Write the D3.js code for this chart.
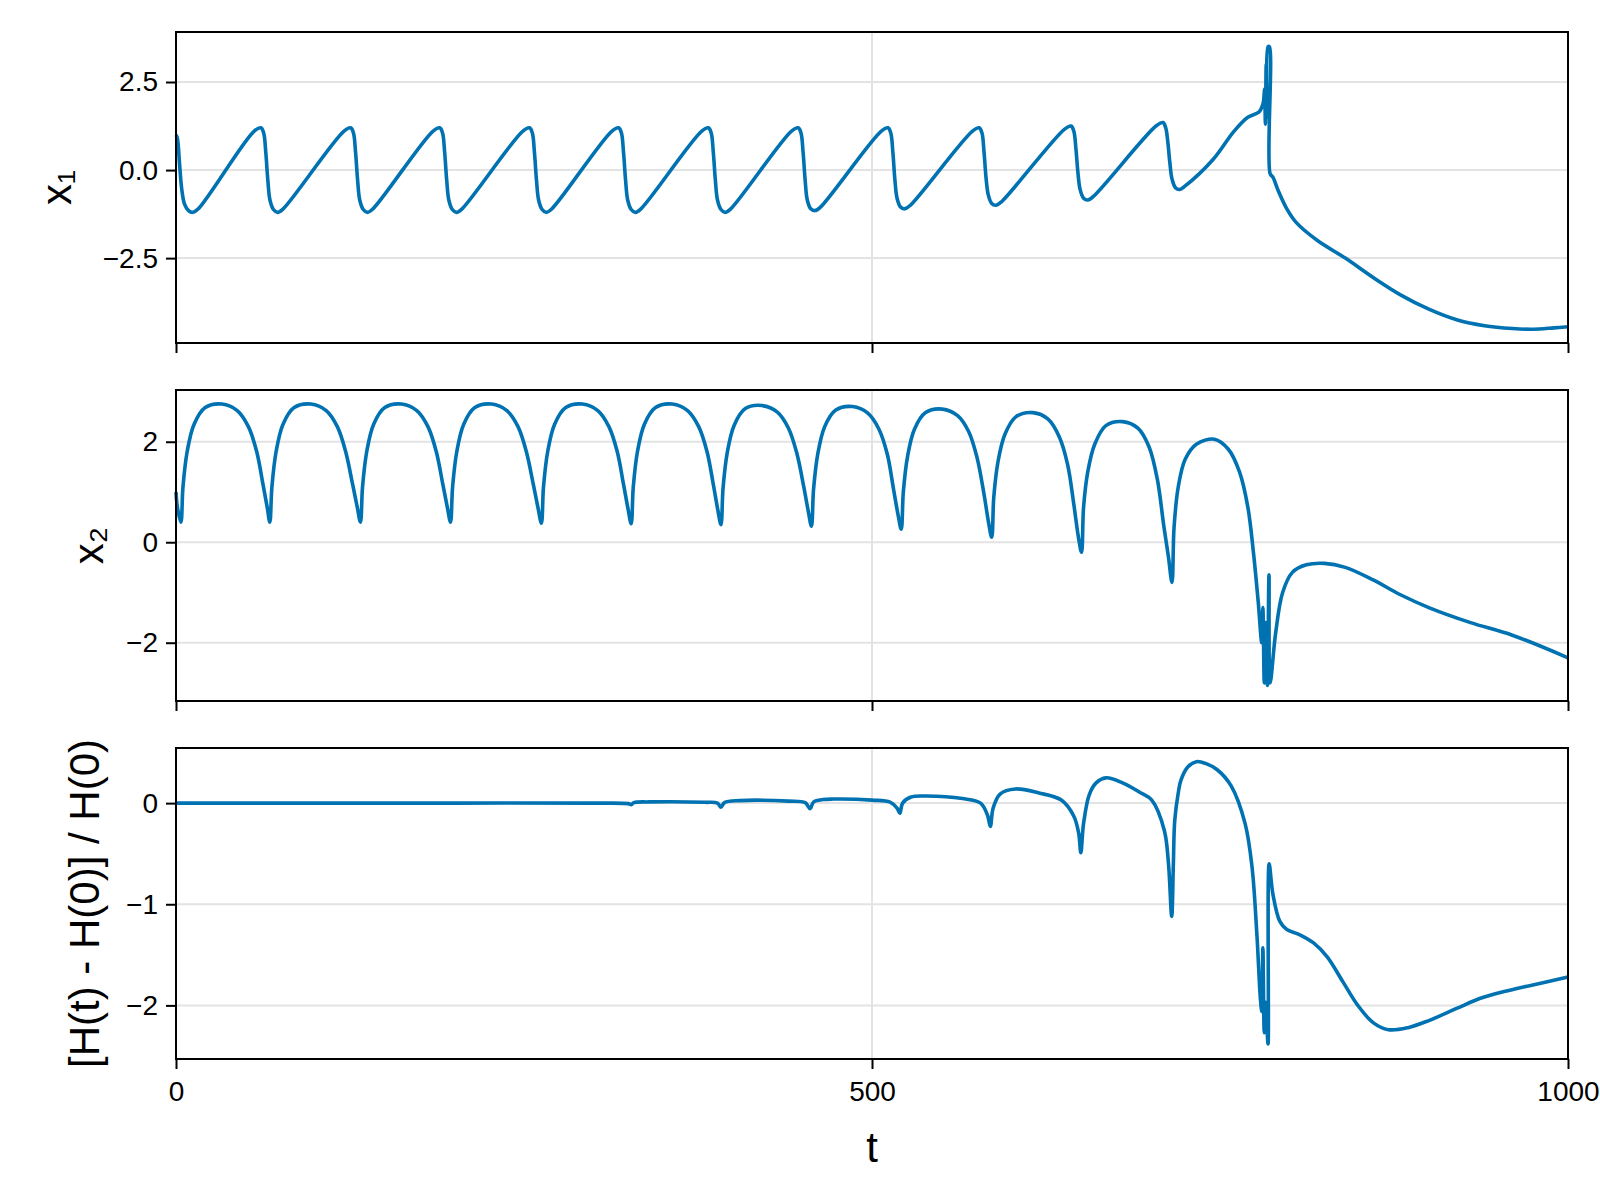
<!DOCTYPE html>
<html>
<head>
<meta charset="utf-8">
<script src="https://cdn.jsdelivr.net/npm/d3@7"></script>
<style>
  body { margin: 0; background: #fff; }
  text { font-family: "Liberation Sans", Arial, sans-serif; fill: #000; }
</style>
</head>
<body>
<svg id="chart" width="1600" height="1200"></svg>
<script>
// t, x1
var x1Data = [
  [0,1.0],[1,0.9],[2.5,0.2],[4,-0.5],[6,-0.95],[9,-1.15],[12,-1.2],[16,-1.1],[56,1.1],[61,1.2],
  [63,1.05],[64.5,0.5],[66,-0.3],[67.5,-0.85],[70,-1.12],[73,-1.2],[77,-1.1],[120.5,1.1],[125.5,1.2],
  [127.5,1.05],[129,0.5],[130.5,-0.3],[132,-0.85],[134.5,-1.12],[137.5,-1.2],[141.5,-1.1],[184.5,1.1],[189.5,1.2],
  [191.5,1.05],[193,0.5],[194.5,-0.3],[196,-0.85],[198.5,-1.12],[201.5,-1.2],[205.5,-1.1],[249,1.1],[254,1.2],
  [256,1.05],[257.5,0.5],[259,-0.3],[260.5,-0.85],[263,-1.12],[266,-1.2],[270,-1.1],[313,1.1],[318,1.2],
  [320,1.05],[321.5,0.5],[323,-0.3],[324.5,-0.85],[327,-1.12],[330,-1.2],[334,-1.1],[377.5,1.1],[382.5,1.2],
  [384.5,1.05],[386,0.5],[387.5,-0.3],[389,-0.85],[391.5,-1.12],[394.5,-1.2],[398.5,-1.1],[442,1.1],[447,1.2],
  [449,1.05],[450.5,0.5],[452,-0.3],[453.5,-0.85],[456,-1.1],[459,-1.15],[463,-1.05],[506.5,1.1],[511.5,1.2],
  [513.5,1.05],[515,0.5],[516.5,-0.3],[518,-0.8],[520.5,-1.05],[523.5,-1.1],[527.5,-1.0],[572,1.1],[577,1.2],
  [579,1.05],[580.5,0.5],[582,-0.25],[583.5,-0.7],[586,-0.95],[589,-1.0],[593,-0.9],[638,1.15],[643,1.25],
  [645,1.1],[646.5,0.6],[648,-0.1],[649.5,-0.55],[652,-0.8],[655,-0.85],[659,-0.75],[704,1.25],[709,1.35],
  [711,1.2],[712.5,0.8],[714,0.2],[715.5,-0.25],[718,-0.5],[721,-0.55],[725,-0.45],[745,0.3],[760,1.1],
  [770,1.5],[778,1.65],[781,1.9],[782,2.3],[782.6,1.3],[783.2,3.0],[783.8,1.5],[784.5,3.5],[785.5,3.5],
  [786,-0.1],[788,-0.2],[792,-0.6],[798,-1.1],[805,-1.5],[820,-2.0],[840,-2.5],[860,-3.05],[880,-3.55],
  [900,-3.95],[920,-4.25],[940,-4.42],[960,-4.5],[975,-4.52],[990,-4.48],[1000,-4.45]
];

// t, x2
var x2Data = [
  [0,1.0],[1,0.7],[3.5,0.4],
  [5,1.1],[8,1.8],[13,2.35],[21,2.68],[33,2.75],[44,2.62],[52,2.3],[58,1.8],[62.5,1.15],[65.5,0.7],[67.4,0.4],
  [68.9,1.1],[71.9,1.8],[76.9,2.35],[84.9,2.68],[96.9,2.75],[107.9,2.62],[115.9,2.3],[121.9,1.8],[126.9,1.15],[130.2,0.7],[132.5,0.4],
  [134,1.1],[137,1.8],[142,2.35],[150,2.68],[162,2.75],[173,2.62],[181,2.3],[187,1.8],[191.7,1.15],[194.9,0.7],[197.2,0.4],
  [198.7,1.1],[201.7,1.8],[206.7,2.35],[214.7,2.68],[226.7,2.75],[237.7,2.62],[245.7,2.3],[251.7,1.8],[256.7,1.15],[260.1,0.68],[262.5,0.38],
  [264,1.1],[267,1.8],[272,2.35],[280,2.68],[292,2.75],[303,2.62],[311,2.3],[317,1.8],[321.5,1.15],[324.7,0.67],[327,0.37],
  [328.5,1.1],[331.5,1.8],[336.5,2.35],[344.5,2.68],[356.5,2.75],[367.5,2.62],[375.5,2.3],[381.5,1.8],[386,1.15],[389.2,0.65],[391.5,0.35],
  [393,1.08],[396,1.78],[401,2.33],[409,2.66],[421,2.72],[432,2.59],[440,2.27],[446,1.77],[451,1.1],[454.2,0.62],[456.5,0.32],
  [458,1.05],[461,1.75],[466,2.3],[474,2.63],[486,2.7],[497,2.57],[505,2.25],[511,1.75],[515.5,1.05],[518.7,0.55],[521,0.26],
  [522.5,1.0],[525.5,1.7],[530.5,2.25],[538.5,2.58],[550.5,2.65],[561.5,2.52],[569.5,2.2],[575.5,1.68],[580.5,0.95],[583.7,0.4],[586,0.1],
  [587.5,0.9],[590.5,1.6],[595.5,2.15],[603.5,2.5],[615.5,2.58],[626.5,2.45],[634.5,2.1],[640.5,1.55],[645,0.75],[648.3,0.1],[650.5,-0.2],
  [652,0.7],[655,1.4],[660,1.95],[668,2.32],[680,2.4],[691,2.27],[699,1.9],[705,1.25],[709.5,0.35],[713,-0.3],[715.5,-0.8],
  [717,0.3],[720,1.1],[725,1.65],[733,1.95],[746,2.05],[756,1.85],[764,1.4],[770,0.7],[774,-0.2],[777.5,-1.2],
  [780,-2.0],[780.8,-1.3],[781.8,-2.8],[782.8,-1.6],[784,-2.85],[785.2,-0.65],[786,-2.8],[790,-1.8],[795,-1.0],
  [802,-0.6],[812,-0.45],[825,-0.42],[840,-0.5],[860,-0.75],[880,-1.05],[900,-1.3],[930,-1.6],[960,-1.85],[1000,-2.3]
];

// t, [H(t) - H(0)] / H(0)
var hData = [
  [0,0],[100,0],[200,0],[300,0],[325,-0.005],[327,-0.015],[329,0.005],[340,0.012],[380,0.008],[389,0],
  [391.5,-0.04],[394,0.005],[405,0.025],[440,0.02],[452,0.005],[455.5,-0.055],[458,0.01],[465,0.035],[472,0.04],
  [500,0.03],[513,0.01],[518,-0.05],[520,-0.1],[522,0.0],[528,0.06],[539,0.07],[565,0.045],[578,0.0],
  [583,-0.12],[585,-0.23],[587,-0.05],[592,0.09],[603,0.14],[620,0.1],[636,0.03],[645,-0.13],[648.5,-0.3],
  [650,-0.49],[652,-0.2],[656,0.08],[661,0.2],[668,0.25],[680,0.2],[692,0.11],[701,0.03],[710,-0.27],
  [713,-0.6],[715.3,-1.12],[716.5,-0.6],[717.5,-0.17],[720,0.1],[722,0.23],[727,0.36],[733,0.41],[740,0.39],
  [748,0.33],[758,0.17],[768,-0.2],[773,-0.63],[776.5,-1.3],[779,-1.93],[780,-2.06],[780.8,-1.43],[781.8,-2.27],
  [782.8,-1.97],[784.5,-2.38],[785.3,-0.6],[788,-0.9],[793,-1.17],[798,-1.25],[807,-1.3],[817,-1.38],[827,-1.52],
  [838,-1.76],[849,-2.0],[860,-2.17],[871,-2.24],[885,-2.22],[900,-2.15],[920,-2.03],[937,-1.93],[955,-1.86],
  [974,-1.8],[1000,-1.72]
];

var xTicks = [0, 500, 1000];
var x1Ticks = [-2.5, 0, 2.5];
var x2Ticks = [-2, 0, 2];
var hTicks = [-2, -1, 0];

var panels = [
  { data: x1Data, domain: [-4.91, 3.92], ticks: x1Ticks, fmt: d3.format(".1f"), label: "x\u2081", top: 32, labelX: 60 },
  { data: x2Data, domain: [-3.16, 3.03], ticks: x2Ticks, fmt: d3.format("d"), label: "x\u2082", top: 390, labelX: 92 },
  { data: hData, domain: [-2.53, 0.545], ticks: hTicks, fmt: d3.format("d"), label: "[H(t) - H(0)] / H(0)", top: 748, labelX: 88, last: true }
];

var svg = d3.select("#chart"),
    left = 176, right = 1568, ph = 311;

var x = d3.scaleLinear().domain([0, 1000]).range([left, right]);

function minus(s) { return s.replace("-", "\u2212"); }

panels.forEach(function (p) {
  var y = d3.scaleLinear().domain(p.domain).range([p.top + ph, p.top]);
  var g = svg.append("g");

  // grid
  g.selectAll(".gy").data(p.ticks).enter().append("line")
    .attr("x1", left).attr("x2", right)
    .attr("y1", function (d) { return y(d); }).attr("y2", function (d) { return y(d); })
    .attr("stroke", "#e3e3e3").attr("stroke-width", 2);
  g.selectAll(".gx").data(xTicks).enter().append("line")
    .attr("x1", function (d) { return x(d); }).attr("x2", function (d) { return x(d); })
    .attr("y1", p.top).attr("y2", p.top + ph)
    .attr("stroke", "#e3e3e3").attr("stroke-width", 2);

  // line
  var line = d3.line()
    .x(function (d) { return x(d[0]); })
    .y(function (d) { return y(d[1]); })
    .curve(d3.curveCatmullRom.alpha(0.5));
  g.append("path").datum(p.data)
    .attr("d", line)
    .attr("fill", "none")
    .attr("stroke", "#0072B2")
    .attr("stroke-width", 3.6)
    .attr("stroke-linejoin", "round");

  // frame
  g.append("rect").attr("x", left).attr("y", p.top).attr("width", right - left).attr("height", ph)
    .attr("fill", "none").attr("stroke", "#000").attr("stroke-width", 2);

  // y axis
  var ya = d3.axisLeft(y).tickValues(p.ticks).tickSize(10).tickPadding(8)
    .tickFormat(function (d) { return minus(p.fmt(d)); });
  var yg = g.append("g").attr("transform", "translate(" + left + ",0)").call(ya);
  yg.select(".domain").remove();
  yg.selectAll("line").attr("stroke-width", 2);
  yg.selectAll("text").style("font-size", "28px").style("font-family", "'Liberation Sans', Arial, sans-serif");

  // x axis
  var xa = d3.axisBottom(x).tickValues(xTicks).tickSize(10).tickPadding(12)
    .tickFormat(p.last ? d3.format("d") : "");
  var xg = g.append("g").attr("transform", "translate(0," + (p.top + ph) + ")").call(xa);
  xg.select(".domain").remove();
  xg.selectAll("line").attr("stroke-width", 2);
  xg.selectAll("text").style("font-size", "28px").style("font-family", "'Liberation Sans', Arial, sans-serif");

  // y label
  g.append("text")
    .attr("transform", "translate(" + p.labelX + "," + (p.top + ph / 2) + ") rotate(-90)")
    .attr("text-anchor", "middle")
    .attr("dominant-baseline", "middle")
    .style("font-size", "42px")
    .text(p.label);
});

svg.append("text")
  .attr("x", (left + right) / 2).attr("y", 1162)
  .attr("text-anchor", "middle")
  .style("font-size", "42px")
  .text("t");
</script>
</body>
</html>
